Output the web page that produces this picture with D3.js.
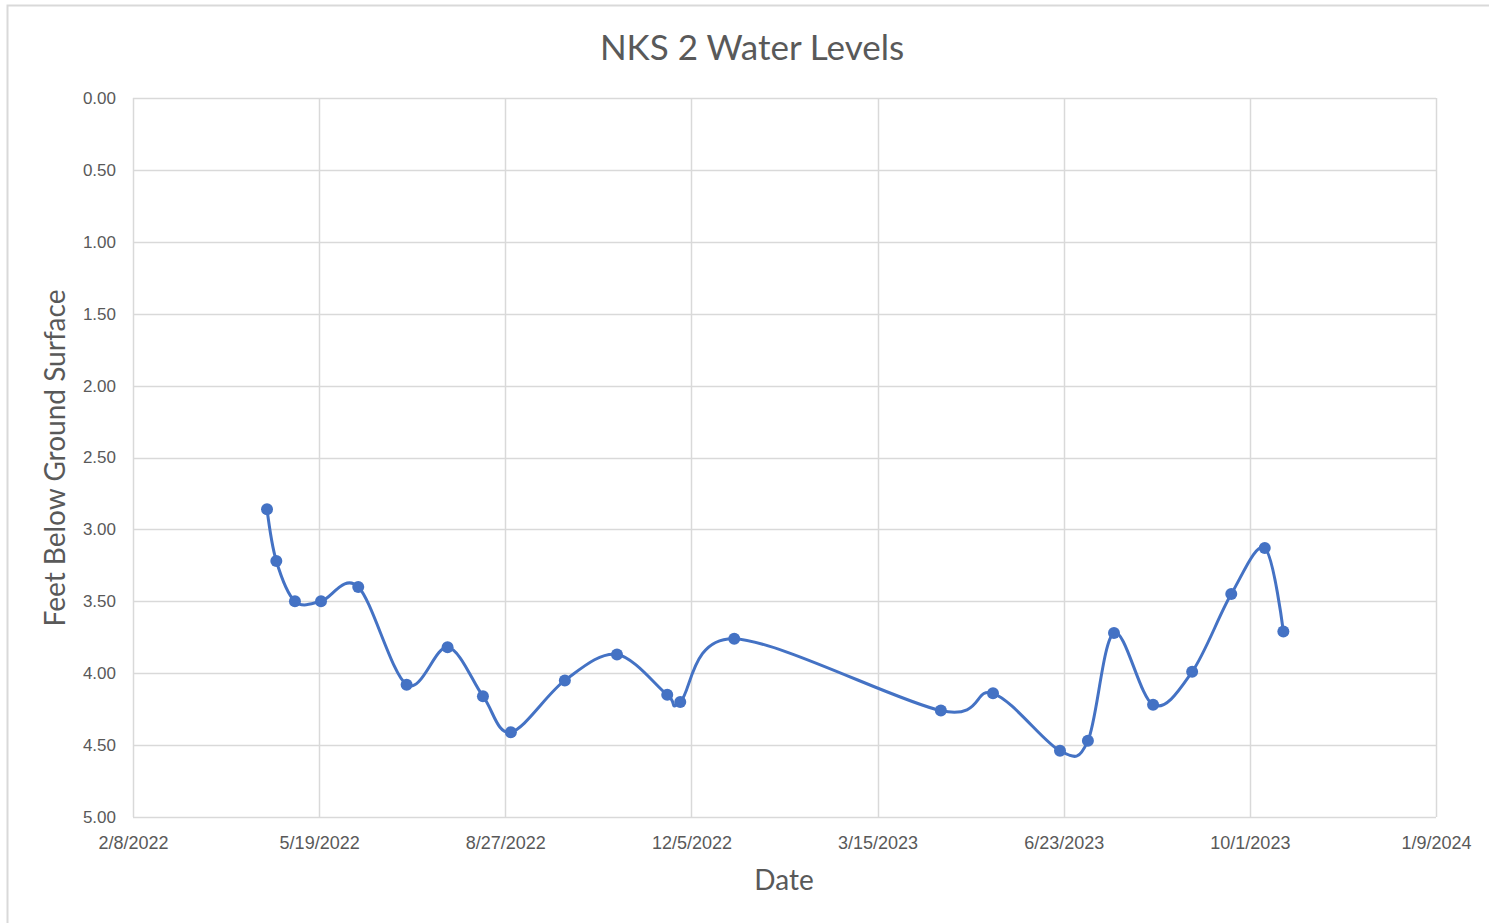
<!DOCTYPE html>
<html>
<head>
<meta charset="utf-8">
<script src="https://cdn.jsdelivr.net/npm/d3@7"></script>
<style>
  body { margin: 0; background: #fff; }
  svg { display: block; font-family: Lato, "Open Sans", sans-serif; }
</style>
</head>
<body>
<svg id="chart" width="1489" height="923"></svg>
<script>
// sample dates and depth readings (feet below ground surface)
const sampleDates = [
  "4/21/2022", "4/26/2022", "5/6/2022", "5/20/2022", "6/9/2022", "7/5/2022",
  "7/27/2022", "8/15/2022", "8/30/2022", "9/28/2022", "10/26/2022", "11/22/2022",
  "11/29/2022", "12/28/2022", "4/18/2023", "5/16/2023", "6/21/2023", "7/6/2023",
  "7/20/2023", "8/10/2023", "8/31/2023", "9/21/2023", "10/9/2023", "10/19/2023"
];
const depths = [
  2.86, 3.22, 3.50, 3.50, 3.40, 4.08,
  3.82, 4.16, 4.41, 4.05, 3.87, 4.15,
  4.20, 3.76, 4.26, 4.14, 4.54, 4.47,
  3.72, 4.22, 3.99, 3.45, 3.13, 3.71
];
const xTickLabels = ["2/8/2022", "5/19/2022", "8/27/2022", "12/5/2022", "3/15/2023", "6/23/2023", "10/1/2023", "1/9/2024"];
const yTicks = [0, 0.5, 1, 1.5, 2, 2.5, 3, 3.5, 4, 4.5, 5];

const parse = d3.timeParse("%-m/%-d/%Y");
const data = sampleDates.map((d, i) => ({date: parse(d), val: depths[i]}));
const xTickDates = xTickLabels.map(parse);

const svg = d3.select("#chart");
const margin = {left: 133, right: 53, top: 98, bottom: 106};
const W = 1489, H = 923;
const textColor = "#595959";
const gridColor = "#d9d9d9";

// outer chart frame
svg.append("rect")
  .attr("x", 7.5).attr("y", 5.5)
  .attr("width", 1500).attr("height", 1000)
  .attr("fill", "none").attr("stroke", "#d9d9d9").attr("stroke-width", 2);

let x = d3.scaleTime()
  .domain([xTickDates[0], xTickDates[xTickDates.length - 1]])
  .range([margin.left, W - margin.right]);
let y = d3.scaleLinear()
  .domain([0, 5])
  .range([margin.top, H - margin.bottom]);

// gridlines
svg.append("g").selectAll("line.h")
  .data(yTicks).enter().append("line")
  .attr("x1", margin.left).attr("x2", W - margin.right)
  .attr("y1", d => Math.round(y(d)) + 0.5).attr("y2", d => Math.round(y(d)) + 0.5)
  .attr("stroke", gridColor).attr("stroke-width", 1.5);
svg.append("g").selectAll("line.v")
  .data(xTickDates).enter().append("line")
  .attr("x1", d => Math.round(x(d)) + 0.5).attr("x2", d => Math.round(x(d)) + 0.5)
  .attr("y1", margin.top).attr("y2", H - margin.bottom)
  .attr("stroke", gridColor).attr("stroke-width", 1.5);

// axes
let y_axis = d3.axisLeft(y).tickValues(yTicks).tickFormat(d3.format(".2f")).tickSize(0).tickPadding(17);
svg.append("g").attr("transform", "translate(" + margin.left + ",0)").call(y_axis)
  .call(g => g.select(".domain").remove())
  .selectAll("text").attr("fill", textColor).style("font-size", "17px");

let x_axis = d3.axisBottom(x).tickValues(xTickDates).tickFormat((d, i) => xTickLabels[i]).tickSize(0).tickPadding(19);
svg.append("g").attr("transform", "translate(0," + (H - margin.bottom) + ")").call(x_axis)
  .call(g => g.select(".domain").remove())
  .selectAll("text").attr("fill", textColor).style("font-size", "18px");

// line
const line = d3.line()
  .x(d => x(d.date))
  .y(d => y(d.val))
  .curve(d3.curveCardinal.tension(0));
svg.append("path")
  .datum(data)
  .attr("fill", "none")
  .attr("stroke", "#4472c4")
  .attr("stroke-width", 3)
  .attr("stroke-linejoin", "round")
  .attr("d", line);

svg.append("g").selectAll("circle")
  .data(data).enter().append("circle")
  .attr("cx", d => x(d.date))
  .attr("cy", d => y(d.val))
  .attr("r", 6)
  .attr("fill", "#4472c4");

// titles
svg.append("text")
  .attr("x", 752).attr("y", 60)
  .attr("text-anchor", "middle")
  .attr("fill", textColor)
  .style("font-size", "35px")
  .text("NKS 2 Water Levels");

svg.append("text")
  .attr("x", 784).attr("y", 890)
  .attr("text-anchor", "middle")
  .attr("fill", textColor)
  .style("font-size", "28px")
  .text("Date");

svg.append("text")
  .attr("transform", "translate(65,458) rotate(-90)")
  .attr("text-anchor", "middle")
  .attr("fill", textColor)
  .style("font-size", "28px")
  .text("Feet Below Ground Surface");
</script>
</body>
</html>
